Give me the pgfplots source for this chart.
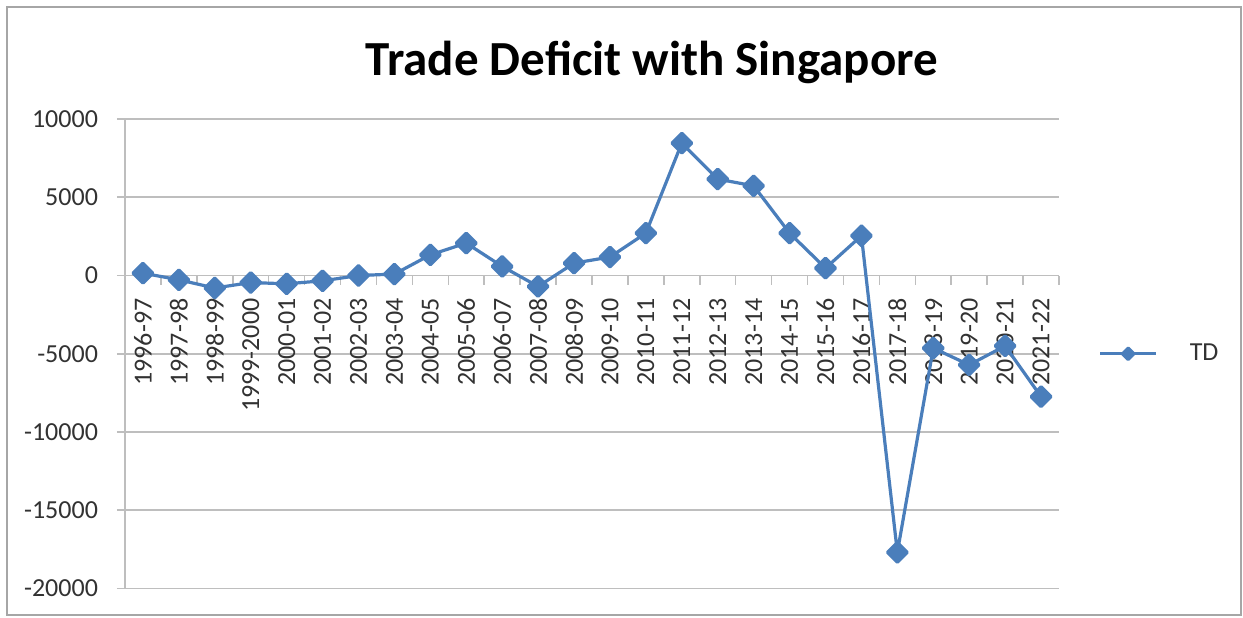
\documentclass[border=0pt]{standalone}
\usepackage{fontspec}
\setmainfont{Carlito}
\usepackage{pgfplots}
\pgfplotsset{compat=1.18}
\definecolor{tdblue}{HTML}{4A7EBB}
\definecolor{gridgray}{RGB}{190,190,190}
\definecolor{labelgray}{RGB}{50,50,50}

\begin{document}
\begin{tikzpicture}
\begin{axis}[
    set layers,
    scale only axis,
    width=467pt, height=234.75pt,
    xmin=-0.5, xmax=25.5,
    ymin=-20000, ymax=10000,
    ytick={-20000,-15000,...,10000},
    axis x line*=middle,
    axis y line*=left,
    axis line style={draw=gridgray, line width=0.8pt},
    ymajorgrids,
    major grid style={draw=gridgray, line width=0.8pt},
    tick align=outside,
    major tick length=4pt,
    minor tick length=4.5pt,
    tick style={draw=gridgray, line width=0.8pt},
    major x tick style={draw=none},
    xtick={0,...,25},
    minor xtick={-0.5,0.5,...,25.5},
    xticklabels={1996-97,1997-98,1998-99,1999-2000,2000-01,2001-02,2002-03,2003-04,2004-05,2005-06,2006-07,2007-08,2008-09,2009-10,2010-11,2011-12,2012-13,2013-14,2014-15,2015-16,2016-17,2017-18,2018-19,2019-20,2020-21,2021-22},
    xticklabel style={rotate=90, anchor=east, xshift=-4pt},
    ticklabel style={font=\fontsize{13}{15}\selectfont, text=labelgray},
    yticklabel style={xshift=-6pt},
    /pgf/number format/assume math mode=true,
    scaled y ticks=false,
    yticklabel style={/pgf/number format/.cd, 1000 sep={}},
    title={Trade Deficit with Singapore},
    title style={font=\fontsize{24.5}{28}\selectfont\bfseries, at={(0.564,1.096)}, anchor=center},
    legend style={at={(1.0355,0.5)}, anchor=west, draw=none, fill=none,
        column sep=14pt,
        font=\fontsize{13}{15}\selectfont, text=labelgray},
    legend image code/.code={
        \draw[mark repeat=2, mark phase=2, mark size=2pt] plot coordinates {(0pt,0pt) (14pt,0pt) (28pt,0pt)};
    },
]
\addplot[color=tdblue, line width=1.6pt, line join=round, mark=square*, mark size=3.5pt,
    mark options={rotate=45, solid, fill=tdblue}] coordinates {
    (0,150) (1,-275) (2,-800) (3,-450) (4,-530) (5,-340) (6,0) (7,90)
    (8,1320) (9,2070) (10,580) (11,-700) (12,790) (13,1180) (14,2710)
    (15,8460) (16,6160) (17,5730) (18,2710) (19,470) (20,2540)
    (21,-17690) (22,-4640) (23,-5710) (24,-4500) (25,-7740)
};
\addlegendentry{TD}
\end{axis}
\draw[gray!70, line width=0.8pt] (-59pt,-13.25pt) rectangle (558pt,290.75pt);
\pgfresetboundingbox
\useasboundingbox (-62.5pt,-14.25pt) rectangle (559pt,294.25pt);
\end{tikzpicture}
\end{document}
